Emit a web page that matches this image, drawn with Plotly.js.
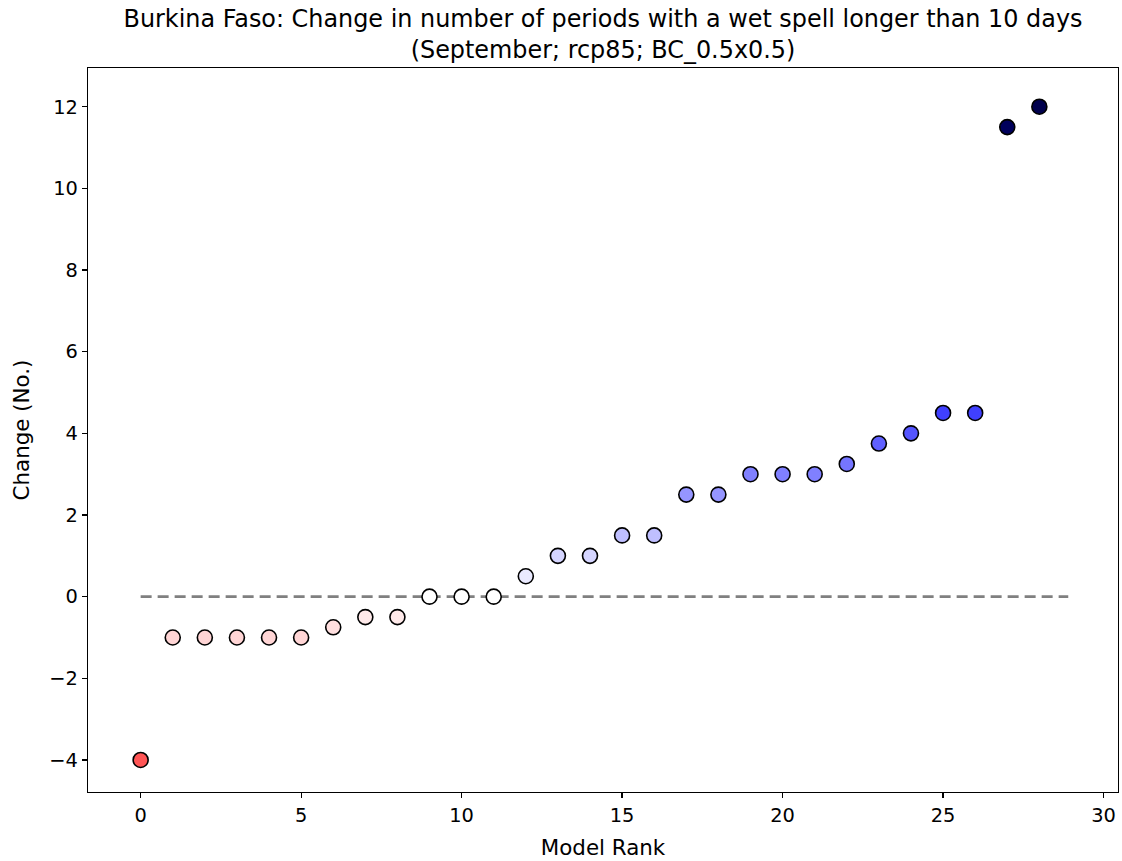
<!DOCTYPE html>
<html>
<head>
<meta charset="utf-8">
<script src="https://cdn.plot.ly/plotly-3.0.1.min.js"></script>
<style>
  html, body { margin: 0; padding: 0; background: #fff; }
  #chart { width: 1122px; height: 861px; }
</style>
</head>
<body>
<div id="chart"></div>
<script>
// Model ranks and the change in number of wet-spell periods (> 10 days)
const modelRank = [0, 1, 2, 3, 4, 5, 6, 7, 8, 9, 10, 11, 12, 13, 14,
                   15, 16, 17, 18, 19, 20, 21, 22, 23, 24, 25, 26, 27, 28];
const changeValues = [-4, -1, -1, -1, -1, -1, -0.75, -0.5, -0.5, 0, 0, 0, 0.5, 1, 1,
                      1.5, 1.5, 2.5, 2.5, 3, 3, 3, 3.25, 3.75, 4, 4.5, 4.5, 11.5, 12];

// Zero reference line extent
const zeroLineX = [0, 28.9];
const zeroLineY = [0, 0];

// Axis ticks
const xTicks = [0, 5, 10, 15, 20, 25, 30];
const yTicks = [-4, -2, 0, 2, 4, 6, 8, 10, 12];

// Diverging red-white-blue scale (dark red -> red -> white -> blue -> navy)
const seismicR = [
  [0.0, 'rgb(128,0,0)'],
  [0.25, 'rgb(255,0,0)'],
  [0.5, 'rgb(255,255,255)'],
  [0.75, 'rgb(0,0,255)'],
  [1.0, 'rgb(0,0,77)']
];

const zeroLine = {
  x: zeroLineX,
  y: zeroLineY,
  type: 'scatter',
  mode: 'lines',
  line: { color: 'rgb(128,128,128)', width: 2.6, dash: '11px,6px' },
  hoverinfo: 'skip',
  showlegend: false
};

const points = {
  x: modelRank,
  y: changeValues,
  type: 'scatter',
  mode: 'markers',
  marker: {
    size: 15,
    color: changeValues,
    colorscale: seismicR,
    cmin: -12,
    cmax: 12,
    showscale: false,
    line: { color: '#000', width: 1.6 }
  },
  showlegend: false
};

const fontFamily = 'DejaVu Sans, sans-serif';

const layout = {
  width: 1122,
  height: 861,
  margin: { l: 88, r: 4, t: 68, b: 69 },
  paper_bgcolor: '#fff',
  plot_bgcolor: '#fff',
  font: { family: fontFamily, size: 19.4, color: '#000' },
  title: {
    text: 'Burkina Faso: Change in number of periods with a wet spell longer than 10 days<br>(September; rcp85; BC_0.5x0.5)',
    font: { family: fontFamily, size: 23.9, color: '#000' },
    xref: 'paper',
    x: 0.5,
    xanchor: 'center',
    yref: 'container',
    y: 0.9687,
    yanchor: 'middle'
  },
  xaxis: {
    range: [-1.64, 30.45],
    tickvals: xTicks,
    ticks: 'outside',
    ticklen: 5,
    tickwidth: 1.2,
    tickcolor: '#000',
    showgrid: false,
    zeroline: false,
    showline: true,
    linecolor: '#000',
    linewidth: 1.3,
    mirror: true,
    tickfont: { family: fontFamily, size: 19.4 },
    title: { text: 'Model Rank', font: { family: fontFamily, size: 21.4 }, standoff: 14 }
  },
  yaxis: {
    range: [-4.784, 12.948],
    tickvals: yTicks,
    ticks: 'outside',
    ticklen: 5,
    tickwidth: 1.2,
    tickcolor: '#000',
    showgrid: false,
    zeroline: false,
    showline: true,
    linecolor: '#000',
    linewidth: 1.3,
    mirror: true,
    tickfont: { family: fontFamily, size: 19.4 },
    title: { text: 'Change (No.)', font: { family: fontFamily, size: 21.4 }, standoff: 13 }
  }
};

Plotly.newPlot('chart', [zeroLine, points], layout, { displayModeBar: false, staticPlot: true });
</script>
</body>
</html>
